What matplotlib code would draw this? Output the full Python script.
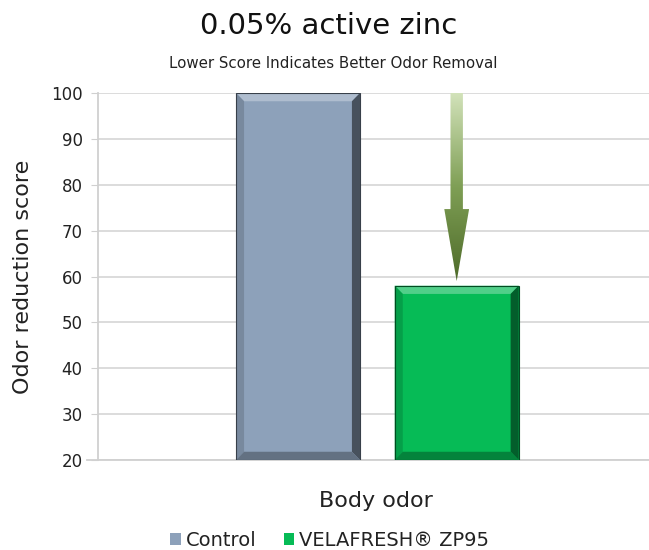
import numpy as np
import matplotlib.pyplot as plt
from matplotlib.patches import Polygon
from matplotlib.colors import to_rgb, LinearSegmentedColormap

plt.rcParams['font.family'] = ['DejaVu Sans']

category = 'Body odor'
series = ['Control', 'VELAFRESH® ZP95']
values = [100, 58]
colors = ['#8da1ba', '#06bb56']
yticks = [20, 30, 40, 50, 60, 70, 80, 90, 100]


def shade(c, f):
	r = np.array(to_rgb(c))
	if f > 0:
		return tuple(r + (1 - r) * f)
	return tuple(r * (1 + f))


def bevel(ax, patch, color, bx, by):
	# fake the excel bevel look with four trapezoids
	x0, y0 = patch.get_x(), patch.get_y()
	x1, y1 = x0 + patch.get_width(), y0 + patch.get_height()
	parts = [
		([(x0, y1), (x1, y1), (x1 - bx, y1 - by), (x0 + bx, y1 - by)], 0.3),
		([(x0, y0), (x0, y1), (x0 + bx, y1 - by), (x0 + bx, y0 + by)], -0.15),
		([(x1, y0), (x1, y1), (x1 - bx, y1 - by), (x1 - bx, y0 + by)], -0.5),
		([(x0, y0), (x1, y0), (x1 - bx, y0 + by), (x0 + bx, y0 + by)], -0.3),
	]
	for pts, f in parts:
		ax.add_patch(Polygon(pts, closed=True, facecolor=shade(color, f), edgecolor='none', zorder=3))
	ax.add_patch(Polygon([(x0, y0), (x1, y0), (x1, y1), (x0, y1)], closed=True, fill=False,
		edgecolor=shade(color, -0.6), lw=0.8, zorder=4))


fig = plt.figure(figsize=(6.49, 5.5), dpi=100)
ax = fig.add_axes([0.151, 0.1636, 0.849, 0.6673])

width = 1.0
pos = [0, 1.28]
bars = []
for p, v, c, s in zip(pos, values, colors, series):
	b = ax.bar(p, v - 20, bottom=20, width=width, color=c, label=s, zorder=2)
	bars.append(b[0])
	bevel(ax, b[0], c, 0.065, 1.8)

ax.set_xlim(-1.613, 2.831)
ax.set_ylim(20, 100)
ax.set_yticks(yticks)
ax.yaxis.grid(True, color='#d9d9d9', lw=1.3, zorder=0)
ax.set_axisbelow(True)
for sp in ['top', 'right', 'bottom']:
	ax.spines[sp].set_visible(False)
ax.spines['left'].set_color('#d0d0d0')
ax.spines['left'].set_linewidth(1.3)
ax.tick_params(axis='y', length=5, color='#d0d0d0', labelsize=12, labelcolor='#222222', pad=6)
ax.set_xticks([])
ax.set_ylabel('Odor reduction score', fontsize=16, color='#222222')
ax.yaxis.set_label_coords(-0.118, 0.5)
ax.set_xlabel(category, fontsize=16, color='#222222')
ax.xaxis.set_label_coords(0.505, -0.085)
ax.axhline(20, color='#d0d0d0', lw=1.3, zorder=1, xmin=-0.02, clip_on=False)

# gradient arrow above the green bar
g = bars[1]
ax_x = g.get_x() + g.get_width() / 2
tip = values[1] + 1
head = 74.7
sw, hw = 0.05, 0.1
arrow = Polygon([(ax_x - sw, 100), (ax_x + sw, 100), (ax_x + sw, head), (ax_x + hw, head),
	(ax_x, tip), (ax_x - hw, head), (ax_x - sw, head)], closed=True, facecolor='none', edgecolor='none')
ax.add_patch(arrow)
cmap = LinearSegmentedColormap.from_list('arr', ['#4e6b2a', '#7f9f55', '#d3e3bb'])
grad = np.linspace(0, 1, 256).reshape(-1, 1)
im = ax.imshow(grad, extent=(ax_x - hw, ax_x + hw, tip, 100), origin='lower', cmap=cmap,
	aspect='auto', zorder=5)
im.set_clip_path(arrow)

fig.text(0.507, 0.952, '0.05% active zinc', ha='center', va='center', fontsize=21, color='#111111')
fig.text(0.513, 0.885, 'Lower Score Indicates Better Odor Removal', ha='center', va='center',
	fontsize=10.8, color='#222222')

leg = fig.legend(loc='center', bbox_to_anchor=(0.508, 0.018), ncol=2, frameon=False, fontsize=14,
	handlelength=0.55, handleheight=0.55, handletextpad=0.25, columnspacing=1.4)
for t in leg.get_texts():
	t.set_color('#222222')

fig.savefig('out.png', dpi=100)
